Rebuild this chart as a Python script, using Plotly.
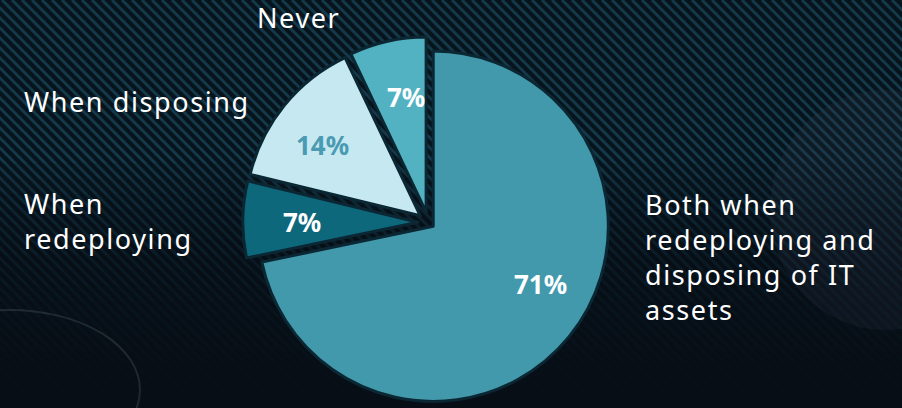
import plotly.graph_objects as go

# ---- data ----
categories = ["Both when<br>redeploying and<br>disposing of IT<br>assets",
              "When<br>redeploying", "When disposing", "Never"]
values = [71, 7, 14, 7]
pct_labels = [f"{v}%" for v in values]

slice_colors = ["#4299ac", "#0d687b", "#c6e9f1", "#52b2c2"]
text_colors = ["#ffffff", "#ffffff", "#4a9ab2", "#ffffff"]
pulls = [0.035, 0.06, 0.06, 0.06]

W, H = 902, 408

fig = go.Figure()
fig.add_trace(go.Pie(
    labels=categories,
    values=values,
    textinfo="none",
    sort=False,
    direction="clockwise",
    rotation=0,
    pull=pulls,
    marker=dict(colors=slice_colors, line=dict(color="#0b2733", width=3)),
    domain=dict(x=[0.235, 0.715], y=[0.0, 0.91]),
    showlegend=False,
    hoverinfo="label+percent",
))

# ---- background stripes ("\" direction) ----
shapes = []
period = 10
for k in range(-H - 20, W + 20, period):
    shapes.append(dict(type="line", xref="paper", yref="paper",
                       x0=k / W, y0=1, x1=(k + H) / W, y1=0,
                       line=dict(color="#14394a", width=3), layer="below"))
# fade towards the bottom
nb = 16
for i in range(nb):
    shapes.append(dict(type="rect", xref="paper", yref="paper", x0=0, x1=1,
                       y0=0, y1=(i + 1) / nb * 0.6, fillcolor="rgba(6,16,24,0.14)",
                       line=dict(width=0), layer="below"))
# soft bokeh / swirls
shapes.append(dict(type="circle", xref="paper", yref="paper",
                   x0=770 / W, x1=1000 / W, y0=1 - 330 / H, y1=1 - 90 / H,
                   fillcolor="rgba(60,70,85,0.15)", line=dict(width=0), layer="below"))
shapes.append(dict(type="circle", xref="paper", yref="paper",
                   x0=-120 / W, x1=140 / W, y0=1 - 470 / H, y1=1 - 310 / H,
                   fillcolor="rgba(0,0,0,0)", line=dict(color="rgba(120,130,140,0.22)", width=2),
                   layer="below"))

lab_font = dict(family="Noto Sans", size=27, color="#ffffff")


def spaced(t):
    return "<br>".join(f'<span style="letter-spacing:1.6px">{p}</span>' for p in t.split("<br>"))


annotations = [
    dict(text=spaced(categories[3]), x=255 / W, y=1 - 18 / H, xanchor="left", yanchor="middle"),
    dict(text=spaced(categories[2]), x=22 / W, y=1 - 101 / H, xanchor="left", yanchor="middle"),
    dict(text=spaced(categories[1]), x=22 / W, y=1 - 221 / H, xanchor="left", yanchor="middle"),
    dict(text=spaced(categories[0]), x=643 / W, y=1 - 257 / H, xanchor="left", yanchor="middle"),
]
for a in annotations:
    a.update(xref="paper", yref="paper", showarrow=False, align="left", font=lab_font)

# percentage labels (positions within each slice)
pct_pos = [(540, 284), (302, 222), (322, 145), (406, 97)]
for txt, (px, py), col in zip(pct_labels, pct_pos, text_colors):
    annotations.append(dict(text=txt, x=px / W, y=1 - py / H, xref="paper", yref="paper",
                            showarrow=False, xanchor="center", yanchor="middle",
                            font=dict(family="Noto Sans", size=26, color=col, weight="bold")))

fig.update_layout(
    width=W, height=H,
    margin=dict(l=0, r=0, t=0, b=0),
    paper_bgcolor="#08141c",
    plot_bgcolor="#08141c",
    shapes=shapes,
    annotations=annotations,
)

fig.write_html("out.html")
